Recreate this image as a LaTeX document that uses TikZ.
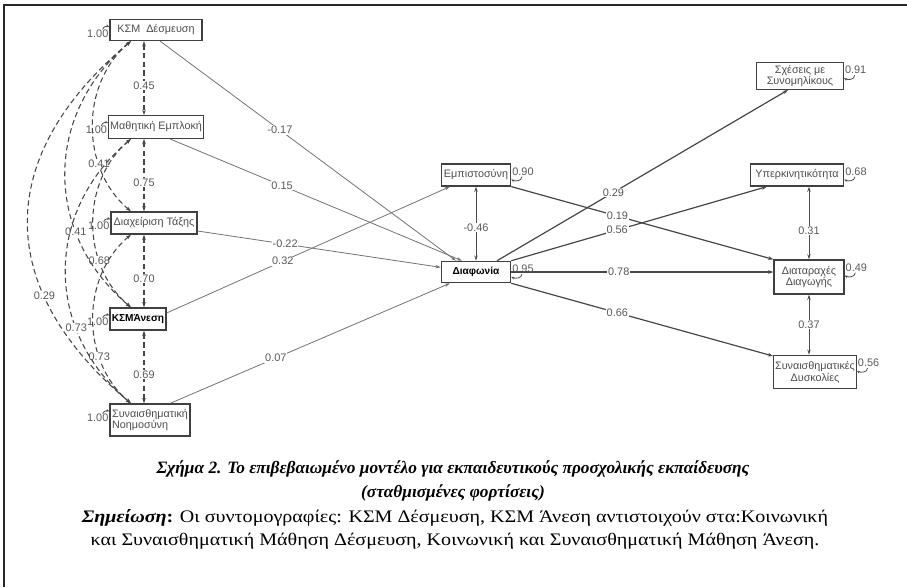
\documentclass[tikz,border=0pt]{standalone}
\usepackage{fontspec}
\setmainfont{Liberation Serif}
\newfontfamily\boxfont{Liberation Sans}
\newfontfamily\notefont[FakeStretch=1.14]{Liberation Serif}
\usetikzlibrary{arrows.meta}

\begin{document}
\begin{tikzpicture}[x=0.75pt, y=0.75pt,
    var/.style={draw=black!75, line width=0.9pt, inner sep=1pt, align=center,
      text=black!70, font=\boxfont\fontsize{8.1}{8.8}\selectfont},
    varb/.style={var, text=black, font=\boxfont\bfseries\fontsize{7.6}{8.8}\selectfont},
    coef/.style={fill=white, inner sep=0.6pt, text=black!65, font=\boxfont\fontsize{8.2}{9}\selectfont},
    regr/.style={draw=black!55, line width=0.6pt, -{Stealth[length=4pt,width=2.6pt]}},
    regrb/.style={draw=black!72, line width=0.9pt, -{Stealth[length=4pt,width=2.8pt]}},
    twoway/.style={draw=black!70, line width=0.7pt, {Stealth[length=4pt,width=2.6pt]}-{Stealth[length=4pt,width=2.6pt]}},
    corr/.style={draw=black!72, line width=0.8pt, dash pattern=on 4pt off 2.5pt,
      {Stealth[length=4pt,width=2.6pt]}-{Stealth[length=4pt,width=2.6pt]}},
    resid/.style={draw=black!70, line width=0.6pt, -{Stealth[length=2.5pt,width=2pt]}}]
  \useasboundingbox (0,0) rectangle (907,-587);
  \draw[black!85, line width=2pt] (4,-587) -- (4,-5) -- (907,-5);

  % exogenous
  \node[var, minimum width=69pt, minimum height=15.75pt] (desm) at (156,-30) {ΚΣΜ\ \ Δέσμευση};
  \node[var, minimum width=68pt, minimum height=17pt] (math) at (156,-127) {Μαθητική Εμπλοκή};
  \node[var, minimum width=64.5pt, minimum height=16.5pt] (diax) at (154,-223) {Διαχείριση Τάξης};
  \node[varb, minimum width=42pt, minimum height=16.5pt] (anesi) at (138,-319) {ΚΣΜΆνεση};
  \node[var, minimum width=60pt, minimum height=24pt, align=left] (sn) at (150,-420) {Συναισθηματική\\Νοημοσύνη};

  % mediators and outcomes
  \node[var, minimum width=52pt, minimum height=16.5pt] (empi) at (476,-175) {Εμπιστοσύνη};
  \node[varb, minimum width=52pt, minimum height=16pt] (diaf) at (476,-272) {Διαφωνία};
  \node[var, minimum width=65pt, minimum height=20pt] (sxes) at (800,-76) {Σχέσεις με\\Συνομηλίκους};
  \node[var, minimum width=70pt, minimum height=16.5pt] (yper) at (797,-175) {Υπερκινητικότητα};
  \node[var, minimum width=52.5pt, minimum height=25.5pt] (diat) at (809,-277) {Διαταραχές\\Διαγωγής};
  \node[var, minimum width=61.5pt, minimum height=25pt] (synai) at (815,-372) {Συναισθηματικές\\Δυσκολίες};

  \coordinate (vcol) at (144,0);
  \coordinate (ccol) at (131,0);
  \foreach \a/\b/\w in {desm/math/0.45, math/diax/0.75, diax/anesi/0.70, anesi/sn/0.69}
    \draw[corr] (\a.south -| vcol) -- node[coef, pos=0.6] {\w} (\b.north -| vcol);
  \foreach \a/\b/\w/\l in {desm/diax/0.41/1, math/anesi/0.68/1, diax/sn/0.73/1,
      desm/anesi/0.41/1.1, math/sn/0.73/1.1, desm/sn/0.29/1.27}
    \draw[corr] (\a.south -| ccol) to[out=220, in=140, looseness=\l]
      node[coef, pos=0.7] {\w} (\b.north -| ccol);

  \draw[regr] ([xshift=3pt]desm.south) -- node[coef, pos=0.405] {-0.17} ([xshift=-15pt]diaf.north);
  \draw[regr] ([xshift=10.5pt]math.south) -- node[coef, pos=0.384] {0.15} ([xshift=-10.5pt]diaf.north);
  \draw[regr] ([yshift=-6pt]diax.east) -- node[coef, pos=0.36] {-0.22} ([yshift=3.5pt]diaf.west);
  \draw[regr] ([yshift=4.5pt]anesi.east) -- node[coef, pos=0.41] {0.32} ([xshift=-19.5pt]empi.south);
  \draw[regr] ([xshift=15pt]sn.north) -- node[coef, pos=0.378] {0.07} ([xshift=-19.5pt]diaf.south);

  \draw[regrb] (empi.south east) -- node[coef, pos=0.405] {0.19} (diat.north west);
  \draw[regrb] ([xshift=15.75pt]diaf.north) -- node[coef, pos=0.4] {0.29} ([xshift=-9pt]sxes.south);
  \draw[regrb] (diaf.north east) -- node[coef, pos=0.414] {0.56} ([xshift=-22.5pt]yper.south);
  \draw[regrb] (diaf.east) -- node[coef, pos=0.41] {0.78} (diaf.east -| diat.west);
  \draw[regrb] (diaf.south east) -- node[coef, pos=0.405] {0.66} ([yshift=-1pt]synai.north west);

  \draw[twoway] (empi.south) -- node[coef, pos=0.55] {-0.46} (diaf.north);
  \draw[twoway] (yper.south -| diat.north) -- node[coef, pos=0.6] {0.31} (diat.north);
  \draw[twoway] (diat.south) -- node[coef] {0.37} (diat.south |- synai.north);

  % residual variances
  \foreach \n in {desm, math, diax, anesi, sn} {
    \node[coef, fill=none, anchor=east] (r\n) at ([yshift=-11pt]\n.north west) {1.00};
    \draw[resid] ([xshift=-5pt,yshift=-8pt]\n.north west) to[out=90, in=160] ([yshift=-6pt]\n.north west);
  }
  \foreach \n/\v in {empi/0.90, diaf/0.95, sxes/0.91, yper/0.68, diat/0.49, synai/0.56} {
    \node[coef, fill=none, anchor=west] (r\n) at ([yshift=-6pt]\n.north east) {\v};
    \draw[resid] ([xshift=8pt,yshift=-10pt]\n.north east) to[out=-90, in=-30] ([yshift=-12pt]\n.north east);
  }

  \node[font=\bfseries\itshape\fontsize{13}{18}\selectfont, align=center] (title) at (453,-481)
    {Σχήμα 2. Το επιβεβαιωμένο μοντέλο για εκπαιδευτικούς προσχολικής εκπαίδευσης\\(σταθμισμένες φορτίσεις)};
  \node[font=\notefont\fontsize{13.2}{17.5}\selectfont, align=center] (note) at (455,-529.5)
    {\textbf{\textit{Σημείωση}:} Οι συντομογραφίες: ΚΣΜ Δέσμευση, ΚΣΜ Άνεση αντιστοιχούν στα:Κοινωνική\\
     και Συναισθηματική Μάθηση Δέσμευση, Κοινωνική και Συναισθηματική Μάθηση Άνεση.};
\end{tikzpicture}
\end{document}
